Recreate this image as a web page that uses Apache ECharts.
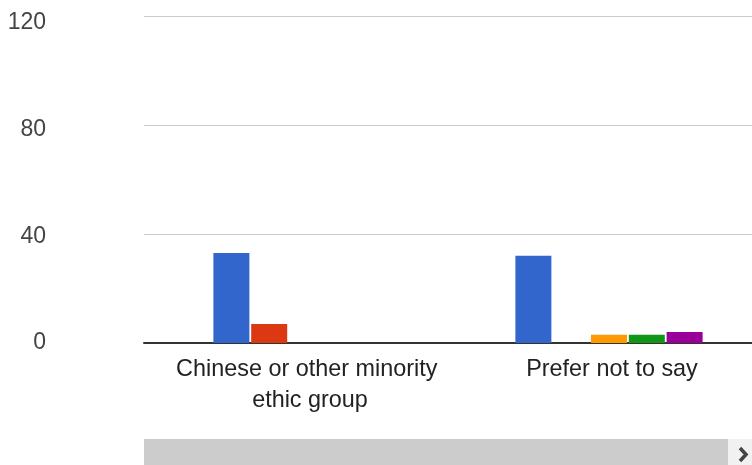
<!DOCTYPE html>
<html>
<head>
<meta charset="utf-8">
<script src="https://cdn.jsdelivr.net/npm/echarts@6/dist/echarts.min.js"></script>
<style>
html,body{margin:0;padding:0;background:#fff;}
#c{width:752px;height:465px;}
</style>
</head>
<body>
<div id="c"></div>
<script>
var categories = ['Chinese or other minority ethic group', 'Prefer not to say'];
var seriesNames = ['Series 1', 'Series 2', 'Series 3', 'Series 4', 'Series 5'];
var seriesColors = ['#3366cc', '#dc3912', '#ff9900', '#109618', '#990099'];
var blueValues = [33, 32];
var redValues = [7, 0];
var orangeValues = [0, 3];
var greenValues = [0, 3];
var purpleValues = [0, 4];
var yTicks = [0, 40, 80, 120];

var allValues = [blueValues, redValues, orangeValues, greenValues, purpleValues];
var FONT = '"Liberation Sans", Arial, sans-serif';

var chart = echarts.init(document.getElementById('c'), null, {renderer: 'canvas'});
var series = allValues.map(function (vals, i) {
  return {
    name: seriesNames[i],
    type: 'bar',
    xAxisIndex: 1,
    yAxisIndex: 1,
    data: vals,
    barCategoryGap: '38%',
    barGap: '5%',
    itemStyle: {color: seriesColors[i]},
    animation: false
  };
});

var yMin = yTicks[0], yMax = yTicks[yTicks.length - 1];

chart.setOption({
  animation: false,
  grid: [
    {left: 144, right: 0, top: 16, bottom: 122, containLabel: false, outerBoundsMode: 'none'},
    {left: 156, width: 604, top: 16, bottom: 122, containLabel: false, outerBoundsMode: 'none'},
    {left: 144, right: 0, top: 23, bottom: 122, containLabel: false, outerBoundsMode: 'none'}
  ],
  xAxis: [
    {
      gridIndex: 0, type: 'value', min: 0, max: 1,
      axisLine: {show: true, lineStyle: {color: '#333333', width: 2}},
      axisTick: {show: false}, axisLabel: {show: false}, splitLine: {show: false}
    },
    {
      gridIndex: 1, type: 'category', data: categories,
      axisLine: {show: false}, axisTick: {show: false},
      axisLabel: {
        interval: 0, margin: 11, fontSize: 23.4, lineHeight: 31,
        color: '#222222', fontFamily: FONT,
        width: 300, overflow: 'break', hideOverlap: false,
        padding: [0, 0, 0, 6]
      }
    },
    {
      gridIndex: 2, type: 'value', min: 0, max: 1, show: false
    }
  ],
  yAxis: [
    {
      gridIndex: 0, type: 'value', min: yMin, max: yMax, interval: 40,
      axisLine: {show: false}, axisTick: {show: false}, axisLabel: {show: false},
      splitLine: {lineStyle: {color: '#cccccc', width: 1}}
    },
    {
      gridIndex: 1, type: 'value', min: yMin, max: yMax, interval: 40,
      show: false, splitLine: {show: false}
    },
    {
      gridIndex: 2, type: 'value', min: yMin, max: yMax, interval: 40,
      axisLine: {show: false}, axisTick: {show: false},
      axisLabel: {margin: 98, fontSize: 23, color: '#444444', fontFamily: FONT},
      splitLine: {show: false}
    }
  ],
  series: series,
  graphic: [
    {type: 'rect', left: 144, top: 439, shape: {width: 584, height: 26}, style: {fill: '#cccccc'}, silent: true},
    {type: 'rect', left: 728, top: 439, shape: {width: 24, height: 26}, style: {fill: '#f1f1f1'}, silent: true},
    {type: 'polyline', shape: {points: [[740, 448], [746, 454.5], [740, 461]]}, style: {stroke: '#444444', lineWidth: 3.5, fill: null}, silent: true}
  ]
});
</script>
</body>
</html>
